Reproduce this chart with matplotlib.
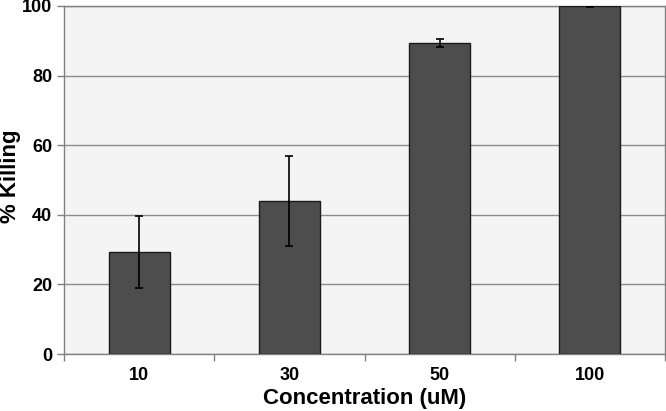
import numpy as np
import matplotlib.pyplot as plt

plt.rcParams['font.family'] = ['Liberation Sans', 'DejaVu Sans']

# data
concentrations = ["10", "30", "50", "100"]
killing = [29.4, 44.0, 89.4, 100.0]
killing_err = [10.3, 12.9, 1.25, 0.15]

fig = plt.figure(figsize=(6.66, 4.11), dpi=100)
ax = fig.add_axes([64 / 666, 57 / 411, 601 / 666, 348 / 411])
ax.set_facecolor("#f4f4f4")

x = np.arange(len(concentrations))
ax.bar(x, killing, width=0.405, color="#4d4d4d", edgecolor="#1a1a1a",
       linewidth=1.0, zorder=3)
ax.errorbar(x, killing, yerr=killing_err, fmt="none", ecolor="black",
            elinewidth=1.2, capsize=3, capthick=1.2, zorder=4)

ax.set_xlim(-0.5, len(concentrations) - 0.5)
ax.set_ylim(0, 100)
ax.set_yticks(range(0, 101, 20))
ax.yaxis.grid(True, color="#8c8c8c", linewidth=1.0, zorder=0)

# category labels centred, tick marks between categories
ax.set_xticks(x)
ax.set_xticklabels(concentrations, fontsize=13, fontweight="bold")
ax.tick_params(axis="x", which="major", length=0, pad=9)
ax.set_xticks(np.arange(-0.5, len(concentrations)), minor=True)
ax.tick_params(axis="x", which="minor", length=5, color="#808080", width=1)
ax.tick_params(axis="y", length=5, color="#808080", width=1, labelsize=13)
for lbl in ax.get_yticklabels():
    lbl.set_fontweight("bold")

for s in ax.spines.values():
    s.set_color("#808080")
    s.set_linewidth(1.0)

ax.set_xlabel("Concentration (uM)", fontsize=16, fontweight="bold", labelpad=3)
ax.set_ylabel("% Killing", fontsize=16, fontweight="bold")
ax.yaxis.set_label_coords(-0.072, 0.51)

fig.savefig("out.png", dpi=100)
